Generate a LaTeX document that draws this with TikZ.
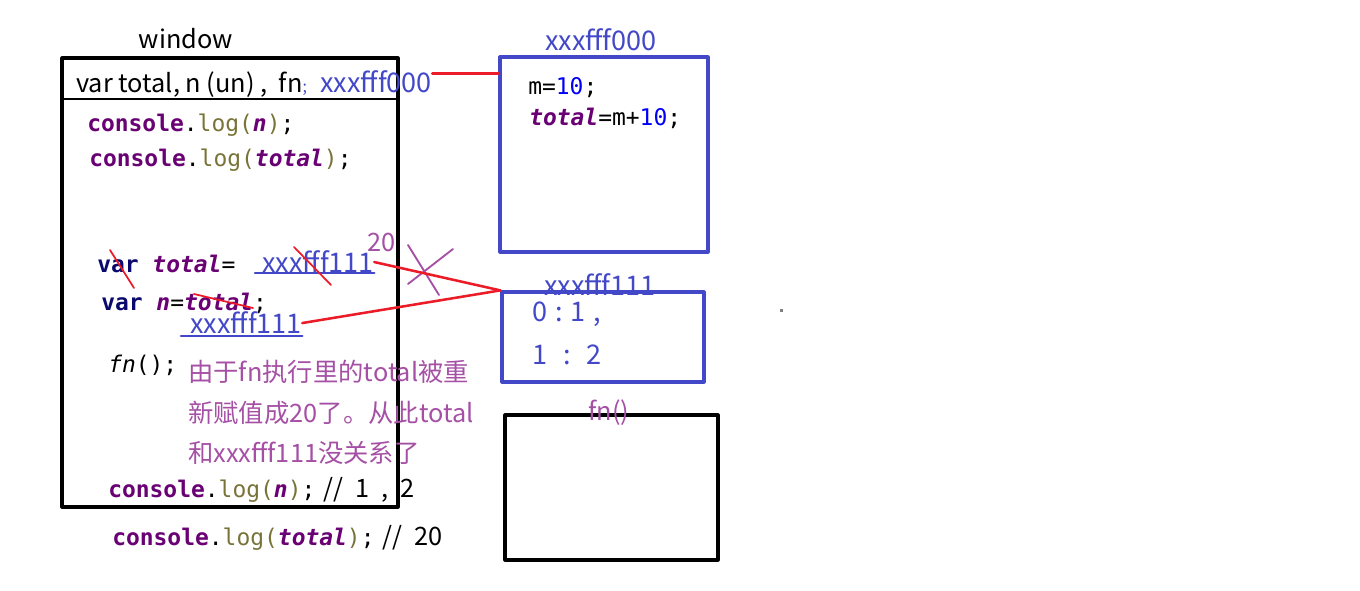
\documentclass[tikz,border=0pt]{standalone}
\usepackage{fontspec}
\setmainfont{Noto Sans CJK SC}
\setmonofont{DejaVu Sans Mono}
\usetikzlibrary{fit}
\definecolor{addrblue}{RGB}{66,72,200}
\definecolor{notepurple}{RGB}{165,80,165}
\definecolor{kwpurple}{RGB}{105,0,115}
\definecolor{logolive}{RGB}{120,115,55}
\definecolor{varnavy}{RGB}{10,10,110}
\definecolor{numblue}{RGB}{0,0,250}
\definecolor{linkred}{RGB}{235,28,40}
\newcommand\codefont{\fontsize{17.2}{20}\selectfont\ttfamily}
\newcommand\txtfont{\fontsize{19}{22}\selectfont\rmfamily}
\newcommand\notefont{\fontsize{19}{22}\selectfont\rmfamily}
\newcommand\addrfont{\fontsize{20.3}{24}\selectfont\rmfamily}
\newcommand\plaintxt{\fontsize{19}{22}\selectfont\rmfamily\mdseries\upshape}
\newcommand\gap{\hspace{6pt}}
\newcommand\wgap{\hspace{9pt}}
\newcommand\cons{{\color{kwpurple}\bfseries console}.{\color{logolive}log(}}
\newcommand\ident[1]{{\color{kwpurple}\bfseries\itshape #1}}
\newcommand\kwvar{{\color{varnavy}\bfseries var}}
\begin{document}
\begin{tikzpicture}[x=0.75pt,y=-0.75pt, line join=round, line cap=round,
  codeline/.style={anchor=base west, inner sep=0pt, font=\codefont},
  caption/.style={anchor=base, inner sep=0pt, font=\txtfont},
  notetext/.style={anchor=base west, inner sep=0pt, font=\notefont, text=notepurple},
  addrtext/.style={anchor=base west, inner sep=0pt, font=\addrfont, text=addrblue},
  scopebox/.style={draw=black, line width=2.3pt, inner sep=0pt},
  memblock/.style={draw=addrblue, line width=2.4pt, inner sep=0pt},
  redlink/.style={draw=linkred, line width=1.9pt},
  strike/.style={draw=linkred, line width=1.3pt},
  underl/.style={draw=addrblue, line width=1.9pt}]
\useasboundingbox (0,0) rectangle (1360,591);
\path
(62,58)coordinate(W1)
(398,507)coordinate(W2)
(500,57)coordinate(A1)
(708,252)coordinate(A2)
(502,292)coordinate(B1)
(704,382)coordinate(B2)
(505,415)coordinate(F1)
(718,560)coordinate(F2)
;
% scopes and heap blocks
\node[scopebox,fit=(W1)(W2)](win){};
\node[memblock,fit=(A1)(A2)](heapA){};
\node[memblock,fit=(B1)(B2)](heapB){};
\node[scopebox,fit=(F1)(F2)](fnscope){};
\draw[line width=0.8pt] (62,99)--(396,99);
\node[caption] (wintitle) at (186,49) {window};
\node[caption,text=addrblue,font=\addrfont] (heapAtitle) at (601,51) {xxxfff000};
\node[caption,text=addrblue,font=\addrfont] (heapBtitle) at (600,296) {xxxfff111};
\node[caption,text=notepurple,font=\notefont] (fntitle) at (609,421) {fn()};
% header of window
\node[anchor=base west,inner sep=0pt,font=\txtfont] (hdr) at (76,93) {var total, n (un) ,\ \ fn{\color{addrblue}\fontsize{12}{14}\selectfont;}};
\node[addrtext] (hdraddr) at (320,93) {xxxfff000};
\draw[redlink] ([yshift=-2pt]hdraddr.north east)--([yshift=-2pt]hdraddr.north east -| heapA.west);
% code in window
\node[codeline] (c1) at (87,132) {\cons\ident{n}{\color{logolive})};};
\node[codeline] (c2) at (89,167) {\cons\ident{total}{\color{logolive})};};
\node[codeline] (c3) at (97,273) {\kwvar{} \ident{total}=};
\node[addrtext] (addr1) at (262,273) {xxxfff111};
\node[codeline] (c4) at (101,311) {\kwvar{} \ident{n}=\ident{total};};
\node[addrtext] (addr2) at (190,334) {xxxfff111};
\node[codeline] (c5) at (108,373) {{\itshape fn}();};
\node[codeline] (c6) at (108,497) {\cons\ident{n}{\color{logolive})};{\plaintxt\gap//\wgap1\wgap,\wgap2}};
\node[codeline] (c7) at (112,545) {\cons\ident{total}{\color{logolive})};{\plaintxt\gap//\wgap20}};
\draw[underl] (255,273)--(addr1.east |- 0,273);
\draw[underl] (181,336)--(addr2.east |- 0,336);
% crossings out
\draw[strike] (110,250)--(134,288);
\draw[strike] (294,247)--(331,285);
\draw[strike] (194,294)--(253,308);
\node[notetext] (newval) at (367,252) {20};
\draw[draw=notepurple,line width=1.4pt] (408,245)--(439,295) (453,249)--(408,284);
% references into heap
\draw[redlink] (addr1.east)--(heapB.north west);
\draw[redlink] (addr2.east)--(heapB.north west);
% heap contents
\node[codeline] (m1) at (528,95) {m={\color{numblue}10};};
\node[codeline] (m2) at (529,126) {\ident{total}=m+{\color{numblue}10};};
\foreach \txt/\yy [count=\i] in {{0\gap:\gap1\gap,}/322, {1\gap\gap:\gap\gap2}/365}
  \node[addrtext] (item\i) at (532,\yy) {\txt};
% note
\foreach \txt/\yy [count=\i] in {由于fn执行里的total被重/382, 新赋值成20了。从此total/422, 和xxxfff111没关系了/462}
  \node[notetext] (note\i) at (188,\yy) {\txt};
\fill[gray] (780,309) rectangle (783,312);
\end{tikzpicture}
\end{document}
